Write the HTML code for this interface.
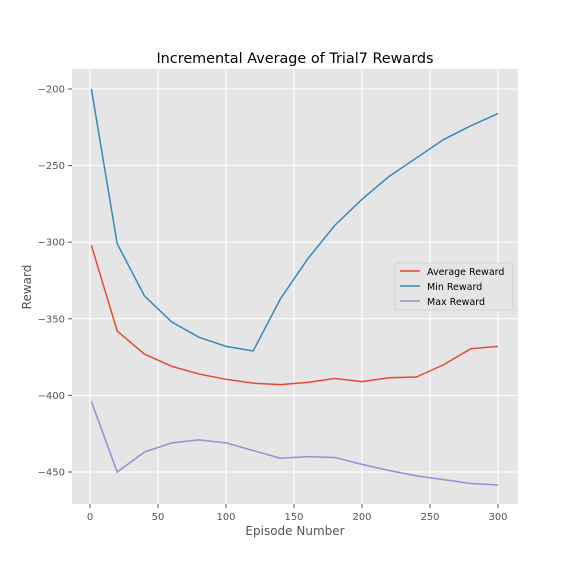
<!DOCTYPE html>
<html><head><meta charset="utf-8"><style>body{margin:0;background:#fff}svg{display:block;font-family:"DejaVu Sans","Liberation Sans",sans-serif}</style></head>
<body>
<svg id="chart" width="576" height="576">
<rect width="576" height="576" fill="#fff"/>
<rect x="72" y="69" width="446" height="435" fill="#e5e5e5"/>
<g id="grid"></g><g id="ticks"></g><g id="series"></g>
<text x="295" y="63" text-anchor="middle" font-size="14.4" fill="#000">Incremental Average of Trial7 Rewards</text>
<text x="295" y="535" text-anchor="middle" font-size="12" fill="#555">Episode Number</text>
<text x="31" y="287" text-anchor="middle" font-size="12" fill="#555" transform="rotate(-90 31 287)">Reward</text>
<g>
<rect x="395" y="263" width="118" height="47" fill="#e5e5e5" stroke="#ccc" stroke-width="0.8" rx="2"/>
<line x1="400" y1="271" x2="420" y2="271" stroke="#E24A33" stroke-width="1.5"/><text x="427" y="275" font-size="9.5" fill="#000">Average Reward</text>
<line x1="400" y1="286" x2="420" y2="286" stroke="#348ABD" stroke-width="1.5"/><text x="427" y="290" font-size="9.5" fill="#000">Min Reward</text>
<line x1="400" y1="301" x2="420" y2="301" stroke="#988ED5" stroke-width="1.5"/><text x="427" y="305" font-size="9.5" fill="#000">Max Reward</text>
</g>
</svg>
<script>
const episodes=[1,20,40,60,80,100,120,140,160,180,200,220,240,260,280,300];
const minReward=[-200,-301,-335,-352,-362,-368,-371,-337,-311,-289,-272,-257,-245,-233,-224,-216];
const avgReward=[-302,-358,-373,-381,-386,-389.5,-392,-393,-391.5,-389,-391,-388.5,-388,-380,-369.5,-368];
const maxReward=[-404,-450,-437,-431,-429,-431,-436,-441,-440,-440.5,-445,-449,-452.5,-455,-457.5,-458.5];
const xTicks=[0,50,100,150,200,250,300];
const yTicks=[-200,-250,-300,-350,-400,-450];
const NS="http://www.w3.org/2000/svg";
const xs=v=>90+v*1.36;
const ys=v=>89+(-200-v)*1.532;
function mk(t,a,p){const e=document.createElementNS(NS,t);for(const k in a)e.setAttribute(k,a[k]);p.appendChild(e);return e;}
const grid=document.getElementById('grid'),ticks=document.getElementById('ticks'),ser=document.getElementById('series');
xTicks.forEach(v=>{const x=xs(v);
const g=mk('line',{x1:x,x2:x,y1:69,y2:504,stroke:'#fff','stroke-width':1},grid);


mk('line',{x1:x,x2:x,y1:504,y2:508,stroke:'#555'},ticks);
const t=mk('text',{x:x,y:520,'text-anchor':'middle','font-size':10,fill:'#555'},ticks);t.textContent=v;

});
yTicks.forEach(v=>{const y=ys(v);
const g=mk('line',{x1:72,x2:518,y1:y,y2:y,stroke:'#fff','stroke-width':1},grid);


mk('line',{x1:68,x2:72,y1:y,y2:y,stroke:'#555'},ticks);
const t=mk('text',{x:65,y:y+3.5,'text-anchor':'end','font-size':10,fill:'#555'},ticks);t.textContent='\u2212'+Math.abs(v);

});
[[avgReward,'#E24A33','average-reward-line'],[minReward,'#348ABD','min-reward-line'],[maxReward,'#988ED5','max-reward-line']].forEach(([d,c,n])=>{
const p=mk('polyline',{points:d.map((v,i)=>xs(episodes[i])+','+ys(v)).join(' '),fill:'none',stroke:c,'stroke-width':1.5},ser);

});
</script>
</body></html>
